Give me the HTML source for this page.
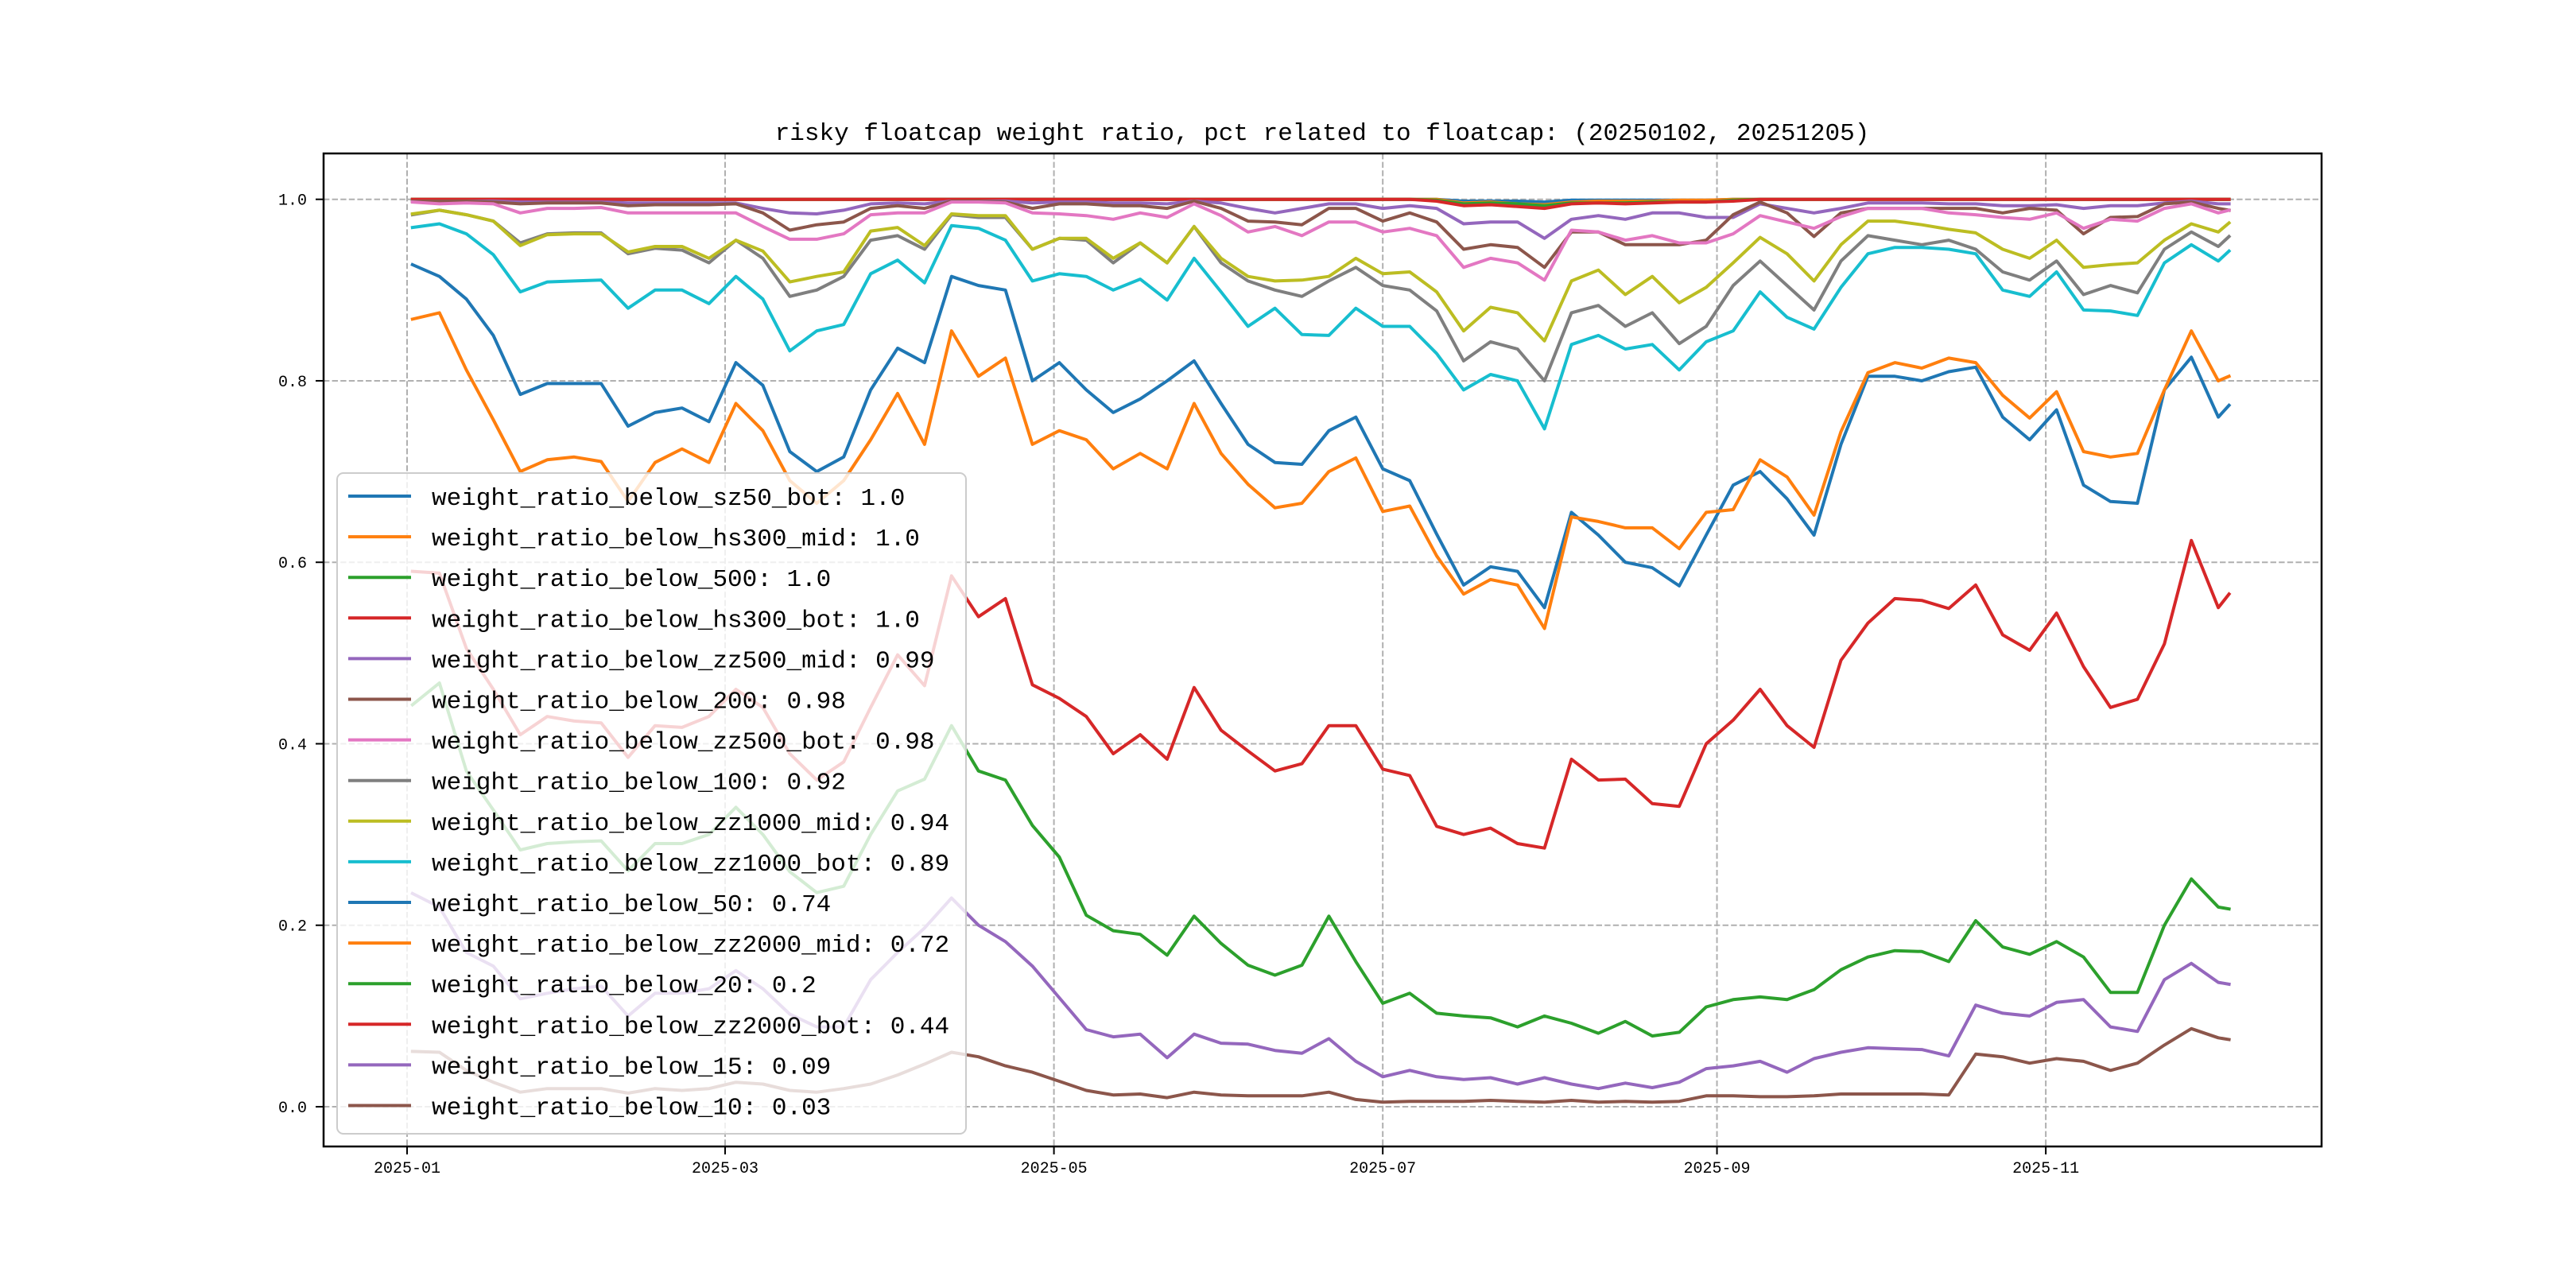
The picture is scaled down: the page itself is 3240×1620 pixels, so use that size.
<!DOCTYPE html>
<html><head><meta charset="utf-8"><style>
html,body{margin:0;padding:0;background:#fff;}
svg{display:block;}
text{font-family:"Liberation Mono","DejaVu Sans Mono",monospace;}
</style></head><body>
<svg id="chart" xmlns="http://www.w3.org/2000/svg" width="3240" height="1620" viewBox="0 0 3240 1620">
<rect x="0" y="0" width="3240" height="1620" fill="#fff"/>
<text x="1663" y="176" font-size="31" text-anchor="middle">risky floatcap weight ratio, pct related to floatcap: (20250102, 20251205)</text>
<g id="grid"></g>
<g id="series"></g>
<rect x="407" y="193" width="2513" height="1249" fill="none" stroke="#000" stroke-width="2.5"/>
<g id="axes"></g>
<g id="legend"></g>
</svg>
<script>
const days = [1,6,11,16,21,26,31,36,41,46,51,56,61,66,71,76,81,86,91,96,101,106,111,116,121,126,131,136,141,146,151,156,161,166,171,176,181,186,191,196,201,206,211,216,221,226,231,236,241,246,251,256,261,266,271,276,281,286,291,296,301,306,311,316,321,326,331,336,338];
const xTickDays = [0,59,120,181,243,304];
const xTickLabels = ["2025-01","2025-03","2025-05","2025-07","2025-09","2025-11"];
const yTicks = [0.0,0.2,0.4,0.6,0.8,1.0];
const yTickLabels = ["0.0","0.2","0.4","0.6","0.8","1.0"];
const seriesNames = ["weight_ratio_below_sz50_bot: 1.0","weight_ratio_below_hs300_mid: 1.0","weight_ratio_below_500: 1.0","weight_ratio_below_hs300_bot: 1.0","weight_ratio_below_zz500_mid: 0.99","weight_ratio_below_200: 0.98","weight_ratio_below_zz500_bot: 0.98","weight_ratio_below_100: 0.92","weight_ratio_below_zz1000_mid: 0.94","weight_ratio_below_zz1000_bot: 0.89","weight_ratio_below_50: 0.74","weight_ratio_below_zz2000_mid: 0.72","weight_ratio_below_20: 0.2","weight_ratio_below_zz2000_bot: 0.44","weight_ratio_below_15: 0.09","weight_ratio_below_10: 0.03"];
const seriesColors = ["#1f77b4","#ff7f0e","#2ca02c","#d62728","#9467bd","#8c564b","#e377c2","#7f7f7f","#bcbd22","#17becf","#1f77b4","#ff7f0e","#2ca02c","#d62728","#9467bd","#8c564b"];

const valsSz50Bot = [1,1,1,1,1,1,1,1,1,1,1,1,1,1,1,1,1,1,1,1,1,1,1,1,1,1,1,1,1,1,1,1,1,1,1,1,1,1,1,0.998,0.998,0.998,0.997,0.999,0.999,0.999,0.999,0.999,0.999,1,1,1,1,1,1,1,1,1,1,1,1,1,1,1,1,1,1,1,1];
const valsHs300Mid = [1,1,1,1,1,1,1,1,1,1,1,1,1,1,1,1,1,1,1,1,1,1,1,1,1,1,1,1,1,1,1,1,1,1,1,1,1,1,1,0.996,0.997,0.995,0.994,0.997,0.998,0.998,0.998,0.999,0.999,1,1,1,1,1,1,1,1,1,1,1,1,1,1,1,1,1,1,1,1];
const vals500 = [1,1,1,1,1,1,1,1,1,1,1,1,1,1,1,1,1,1,1,1,1,1,1,1,1,1,1,1,1,1,1,1,1,1,1,1,1,1,0.999,0.995,0.996,0.995,0.993,0.996,0.996,0.996,0.997,0.997,0.997,0.999,1,1,1,1,1,1,1,1,1,1,1,1,1,1,1,1,1,1,1];
const valsHs300Bot = [1,1,1,1,1,1,1,1,1,1,1,1,1,1,1,1,1,1,1,1,1,1,1,1,1,1,1,1,1,1,1,1,1,1,1,1,1,1,0.998,0.993,0.994,0.992,0.99,0.995,0.996,0.995,0.996,0.997,0.997,0.998,1,1,1,1,1,1,1,1,1,1,1,1,1,1,1,1,1,1,1];
const valsZz500Mid = [0.998,0.998,0.998,0.998,0.997,0.997,0.997,0.997,0.996,0.996,0.996,0.996,0.996,0.99,0.985,0.984,0.988,0.995,0.996,0.995,0.998,0.998,0.998,0.996,0.997,0.997,0.996,0.996,0.995,0.998,0.996,0.99,0.985,0.99,0.995,0.995,0.99,0.993,0.99,0.973,0.975,0.975,0.957,0.978,0.982,0.978,0.985,0.985,0.98,0.98,0.995,0.99,0.985,0.99,0.996,0.996,0.996,0.995,0.995,0.993,0.993,0.994,0.99,0.993,0.993,0.996,0.998,0.995,0.995];
const vals200 = [0.998,0.998,0.998,0.997,0.995,0.996,0.996,0.996,0.993,0.994,0.994,0.994,0.995,0.985,0.966,0.972,0.975,0.99,0.993,0.99,0.998,0.998,0.997,0.99,0.995,0.995,0.993,0.993,0.99,0.998,0.99,0.976,0.975,0.972,0.99,0.99,0.976,0.985,0.975,0.945,0.95,0.947,0.925,0.964,0.964,0.95,0.95,0.95,0.955,0.983,0.997,0.985,0.959,0.985,0.99,0.99,0.99,0.99,0.99,0.985,0.99,0.988,0.962,0.98,0.981,0.995,0.997,0.99,0.988];
const valsZz500Bot = [0.997,0.995,0.996,0.995,0.985,0.99,0.99,0.991,0.985,0.985,0.985,0.985,0.985,0.97,0.956,0.956,0.962,0.983,0.985,0.985,0.997,0.997,0.996,0.985,0.984,0.982,0.978,0.985,0.98,0.995,0.982,0.964,0.97,0.96,0.975,0.975,0.964,0.968,0.96,0.925,0.935,0.93,0.911,0.966,0.964,0.955,0.96,0.952,0.952,0.962,0.982,0.975,0.968,0.981,0.99,0.99,0.99,0.985,0.983,0.98,0.978,0.985,0.968,0.978,0.976,0.99,0.995,0.985,0.988];
const vals100 = [0.983,0.988,0.983,0.976,0.952,0.962,0.963,0.963,0.94,0.946,0.944,0.93,0.955,0.935,0.893,0.9,0.915,0.955,0.96,0.945,0.983,0.98,0.98,0.945,0.957,0.955,0.93,0.952,0.93,0.97,0.93,0.91,0.9,0.893,0.91,0.925,0.905,0.9,0.877,0.822,0.843,0.835,0.8,0.875,0.883,0.86,0.875,0.841,0.86,0.905,0.932,0.905,0.878,0.932,0.96,0.955,0.95,0.955,0.945,0.92,0.911,0.932,0.895,0.905,0.897,0.945,0.964,0.948,0.959];
const valsZz1000Mid = [0.984,0.988,0.983,0.976,0.949,0.961,0.962,0.962,0.942,0.948,0.948,0.935,0.955,0.943,0.909,0.915,0.92,0.965,0.969,0.949,0.984,0.982,0.982,0.945,0.957,0.957,0.935,0.952,0.93,0.97,0.935,0.915,0.91,0.911,0.915,0.935,0.918,0.92,0.898,0.855,0.881,0.875,0.844,0.91,0.922,0.895,0.915,0.886,0.903,0.93,0.958,0.94,0.91,0.95,0.976,0.976,0.972,0.967,0.963,0.945,0.935,0.955,0.925,0.928,0.93,0.955,0.973,0.964,0.974];
const valsZz1000Bot = [0.969,0.973,0.962,0.939,0.898,0.909,0.91,0.911,0.88,0.9,0.9,0.885,0.915,0.89,0.833,0.855,0.862,0.918,0.933,0.908,0.971,0.968,0.955,0.91,0.918,0.915,0.9,0.912,0.889,0.935,0.898,0.86,0.88,0.851,0.85,0.88,0.86,0.86,0.83,0.79,0.807,0.8,0.747,0.84,0.85,0.835,0.84,0.812,0.843,0.855,0.898,0.87,0.857,0.903,0.94,0.947,0.947,0.945,0.94,0.9,0.893,0.92,0.878,0.877,0.872,0.93,0.95,0.932,0.943];
const vals50 = [0.928,0.915,0.89,0.85,0.785,0.797,0.797,0.797,0.75,0.765,0.77,0.755,0.82,0.795,0.722,0.7,0.716,0.79,0.836,0.82,0.915,0.905,0.9,0.8,0.82,0.79,0.765,0.78,0.8,0.822,0.775,0.73,0.71,0.708,0.745,0.76,0.703,0.69,0.631,0.575,0.595,0.59,0.55,0.655,0.63,0.6,0.594,0.574,0.63,0.685,0.7,0.67,0.63,0.73,0.805,0.805,0.8,0.81,0.815,0.76,0.735,0.768,0.685,0.667,0.665,0.79,0.826,0.76,0.773];
const valsZz2000Mid = [0.868,0.875,0.812,0.757,0.7,0.713,0.716,0.711,0.667,0.71,0.725,0.71,0.775,0.745,0.69,0.665,0.69,0.735,0.786,0.73,0.855,0.805,0.825,0.73,0.745,0.735,0.703,0.72,0.703,0.775,0.72,0.686,0.66,0.665,0.7,0.715,0.656,0.662,0.607,0.565,0.581,0.575,0.527,0.65,0.645,0.638,0.638,0.615,0.655,0.658,0.713,0.694,0.652,0.744,0.809,0.82,0.814,0.825,0.82,0.784,0.759,0.788,0.722,0.716,0.72,0.79,0.855,0.8,0.805];
const vals20 = [0.443,0.467,0.37,0.327,0.283,0.29,0.292,0.293,0.26,0.29,0.29,0.3,0.33,0.3,0.259,0.236,0.243,0.3,0.348,0.361,0.42,0.37,0.36,0.31,0.275,0.211,0.194,0.19,0.167,0.21,0.18,0.156,0.145,0.156,0.21,0.16,0.114,0.125,0.103,0.1,0.098,0.088,0.1,0.092,0.081,0.094,0.078,0.082,0.11,0.118,0.121,0.118,0.129,0.151,0.165,0.172,0.171,0.16,0.205,0.176,0.168,0.182,0.165,0.126,0.126,0.2,0.251,0.22,0.218];
const valsZz2000Bot = [0.59,0.588,0.505,0.46,0.41,0.43,0.425,0.423,0.385,0.42,0.418,0.43,0.46,0.44,0.389,0.36,0.38,0.44,0.498,0.464,0.585,0.54,0.56,0.465,0.45,0.43,0.389,0.41,0.383,0.462,0.415,0.392,0.37,0.378,0.42,0.42,0.372,0.365,0.309,0.3,0.307,0.29,0.285,0.383,0.36,0.361,0.334,0.331,0.4,0.426,0.46,0.42,0.396,0.492,0.533,0.56,0.558,0.549,0.575,0.52,0.503,0.544,0.485,0.44,0.449,0.51,0.624,0.55,0.565];
const vals15 = [0.235,0.22,0.17,0.155,0.119,0.125,0.13,0.133,0.1,0.125,0.125,0.13,0.15,0.13,0.102,0.088,0.088,0.14,0.17,0.197,0.23,0.2,0.182,0.155,0.12,0.085,0.077,0.08,0.054,0.08,0.07,0.069,0.062,0.059,0.075,0.05,0.033,0.04,0.033,0.03,0.032,0.025,0.032,0.025,0.02,0.026,0.021,0.027,0.042,0.045,0.05,0.038,0.053,0.06,0.065,0.064,0.063,0.056,0.112,0.103,0.1,0.115,0.118,0.088,0.083,0.14,0.158,0.137,0.135];
const vals10 = [0.061,0.06,0.04,0.027,0.016,0.02,0.02,0.02,0.015,0.02,0.018,0.02,0.027,0.025,0.018,0.016,0.02,0.025,0.035,0.047,0.06,0.055,0.045,0.038,0.028,0.018,0.013,0.014,0.01,0.016,0.013,0.012,0.012,0.012,0.016,0.008,0.005,0.006,0.006,0.006,0.007,0.006,0.005,0.007,0.005,0.006,0.005,0.006,0.012,0.012,0.011,0.011,0.012,0.014,0.014,0.014,0.014,0.013,0.058,0.055,0.048,0.053,0.05,0.04,0.048,0.068,0.086,0.076,0.074];

const seriesValues = [valsSz50Bot,valsHs300Mid,vals500,valsHs300Bot,valsZz500Mid,vals200,valsZz500Bot,vals100,valsZz1000Mid,valsZz1000Bot,vals50,valsZz2000Mid,vals20,valsZz2000Bot,vals15,vals10];

const NS = "http://www.w3.org/2000/svg";
const L=407,R=2920,T=193,B=1442;
function xScale(d){return 512 + d*6.78;}
function yScale(v){return 1392 - v*1141.3;}
function mk(tag,attrs,parent){const e=document.createElementNS(NS,tag);for(const k in attrs)e.setAttribute(k,attrs[k]);parent.appendChild(e);return e;}

const grid=document.getElementById('grid');
const axes=document.getElementById('axes');
xTickDays.forEach((d,i)=>{
  const x=xScale(d);
  const g=mk('line',{x1:x,x2:x,y1:T,y2:B,stroke:'#b0b0b0','stroke-width':2,'stroke-dasharray':'7.4,3.2'},grid);
  
  
  const t=mk('line',{x1:x,x2:x,y1:B,y2:B+10,stroke:'#000','stroke-width':2},axes);
  
  
  const lb=mk('text',{x:x,y:B+33,'font-size':20,'text-anchor':'middle'},axes);
  lb.textContent=xTickLabels[i];
  
  
});
yTicks.forEach((v,i)=>{
  const y=yScale(v);
  const g=mk('line',{x1:L,x2:R,y1:y,y2:y,stroke:'#b0b0b0','stroke-width':2,'stroke-dasharray':'7.4,3.2'},grid);
  
  
  const t=mk('line',{x1:L-10,x2:L,y1:y,y2:y,stroke:'#000','stroke-width':2},axes);
  
  
  const lb=mk('text',{x:386,y:y+7,'font-size':20,'text-anchor':'end'},axes);
  lb.textContent=yTickLabels[i];
  
  
});

const sg=document.getElementById('series');
seriesValues.forEach((vals,si)=>{
  const pts=vals.map((v,i)=>xScale(days[i]).toFixed(1)+','+yScale(v).toFixed(1)).join(' ');
  const pl=mk('polyline',{points:pts,fill:'none',stroke:seriesColors[si],'stroke-width':4,'stroke-linejoin':'round','stroke-linecap':'square'},sg);
  
  
});

const lg=document.getElementById('legend');
const box=mk('rect',{x:424,y:595,width:791,height:831,rx:8,ry:8,fill:'#fff','fill-opacity':0.8,stroke:'#cccccc','stroke-width':2},lg);


seriesNames.forEach((n,i)=>{
  const y=624+i*51.1;
  const h=mk('line',{x1:438,x2:517,y1:y,y2:y,stroke:seriesColors[i],'stroke-width':4},lg);
  
  
  const t=mk('text',{x:543,y:y+11,'font-size':31},lg);
  t.textContent=n;
  
  
});
</script>
</body></html>
